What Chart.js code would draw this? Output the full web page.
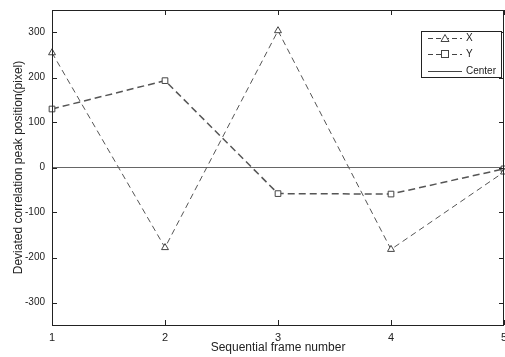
<!DOCTYPE html>
<html>
<head>
<meta charset="utf-8">
<script src="https://cdn.jsdelivr.net/npm/chart.js@4"></script>
<style>
  html, body { margin: 0; padding: 0; background: #fff; }
  #wrap { width: 505px; height: 357px; }
</style>
</head>
<body>
<div id="wrap"><canvas id="chart" width="505" height="357"></canvas></div>
<script>
// 資料
const frames = [1, 2, 3, 4, 5];
const xValues = [255, -178, 304, -182, -10];
const yValues = [130, 193, -58, -59, -3];
const centerValues = [0, 0, 0, 0, 0];
const yTicks = [-300, -200, -100, 0, 100, 200, 300];

const FONT = '"Liberation Sans", Arial, sans-serif';
const ctx = document.getElementById('chart').getContext('2d');

// 去掉刻度標籤造成的邊距
function noPad(s) {
    s.paddingLeft = 0; s.paddingRight = 0; s.paddingTop = 0; s.paddingBottom = 0;
}

// 內側刻度、外框與圖例
const boxPlugin = {
    id: 'boxPlugin',
    afterDraw(chart) {
        const c = chart.ctx;
        const a = chart.chartArea;
        const xs = chart.scales.x;
        const ys = chart.scales.y;
        c.save();
        c.strokeStyle = '#222';
        c.lineWidth = 1;
        c.strokeRect(a.left + 0.5, a.top + 0.5, a.right - a.left - 1, a.bottom - a.top);
        c.beginPath();
        yTicks.forEach(v => {
            const p = Math.round(ys.getPixelForValue(v)) + 0.5;
            c.moveTo(a.left, p); c.lineTo(a.left + 5, p);
            c.moveTo(a.right, p); c.lineTo(a.right - 5, p);
        });
        frames.forEach(v => {
            const p = Math.round(xs.getPixelForValue(v)) + 0.5;
            c.moveTo(p, a.bottom); c.lineTo(p, a.bottom - 5);
            c.moveTo(p, a.top); c.lineTo(p, a.top + 5);
        });
        c.stroke();

        // 圖例
        const lx = 421.5, ly = 31.5, lw = 80, lh = 46;
        c.fillStyle = '#fff';
        c.fillRect(lx, ly, lw, lh);
        c.strokeRect(lx, ly, lw, lh);
        c.font = '10px ' + FONT;
        c.fillStyle = '#222';
        c.textBaseline = 'middle';
        const rows = [
            { text: 'X', y: 38.5, dash: [5, 3], marker: 'tri' },
            { text: 'Y', y: 54.5, dash: [5, 3], marker: 'rect' },
            { text: 'Center', y: 71.5, dash: [], marker: null }
        ];
        rows.forEach(r => {
            c.strokeStyle = '#444';
            c.setLineDash(r.dash);
            c.beginPath();
            c.moveTo(428, r.y); c.lineTo(462, r.y);
            c.stroke();
            c.setLineDash([]);
            if (r.marker === 'tri') {
                c.fillStyle = '#fff';
                c.beginPath();
                c.moveTo(445, r.y - 4); c.lineTo(449, r.y + 3); c.lineTo(441, r.y + 3);
                c.closePath(); c.fill(); c.stroke();
            } else if (r.marker === 'rect') {
                c.fillStyle = '#fff';
                c.fillRect(441.5, r.y - 4, 7, 7);
                c.strokeRect(441.5, r.y - 4, 7, 7);
            }
            c.fillStyle = '#222';
            c.fillText(r.text, 466, r.y);
        });
        c.restore();
    }
};

const chart = new Chart(ctx, {
    type: 'line',
    data: {
        datasets: [{
            label: 'X',
            data: frames.map((f, i) => ({ x: f, y: xValues[i] })),
            borderColor: '#555',
            borderWidth: 1,
            borderDash: [6, 4],
            pointStyle: 'triangle',
            pointRadius: 4,
            pointBackgroundColor: '#fff',
            pointBorderColor: '#444',
            pointBorderWidth: 1,
            clip: 6
        }, {
            label: 'Y',
            data: frames.map((f, i) => ({ x: f, y: yValues[i] })),
            borderColor: '#555',
            borderWidth: 1.5,
            borderDash: [7, 4],
            pointStyle: 'rect',
            pointRadius: 4,
            pointBackgroundColor: '#fff',
            pointBorderColor: '#444',
            pointBorderWidth: 1,
            clip: 6
        }, {
            label: 'Center',
            data: frames.map((f, i) => ({ x: f, y: centerValues[i] })),
            borderColor: '#666',
            borderWidth: 1,
            pointRadius: 0
        }]
    },
    options: {
        responsive: false,
        animation: false,
        layout: { autoPadding: false, padding: { top: 10, right: 1, left: 0, bottom: 0 } },
        plugins: {
            legend: { display: false },
            tooltip: { enabled: false }
        },
        scales: {
            x: {
                type: 'linear',
                min: 1,
                max: 5,
                afterBuildTicks: s => { s.ticks = frames.map(v => ({ value: v })); },
                afterFit: s => { s.height = 32; noPad(s); },
                grid: { display: false, drawTicks: false },
                border: { display: false },
                ticks: { color: '#222', font: { family: FONT, size: 11 }, padding: 6, maxRotation: 0 },
                title: {
                    display: true,
                    text: 'Sequential frame number',
                    color: '#222',
                    font: { family: FONT, size: 12 },
                    padding: { top: 0, bottom: 2 }
                }
            },
            y: {
                min: -350,
                max: 350,
                afterBuildTicks: s => { s.ticks = yTicks.map(v => ({ value: v })); },
                afterFit: s => { s.width = 52; noPad(s); },
                grid: { display: false, drawTicks: false },
                border: { display: false },
                ticks: { color: '#222', font: { family: FONT, size: 10 }, padding: 7 },
                title: {
                    display: true,
                    text: 'Deviated correlation peak position(pixel)',
                    color: '#222',
                    font: { family: FONT, size: 12 },
                    padding: { top: 11, bottom: 0 }
                }
            }
        }
    },
    plugins: [boxPlugin]
});
</script>
</body>
</html>
